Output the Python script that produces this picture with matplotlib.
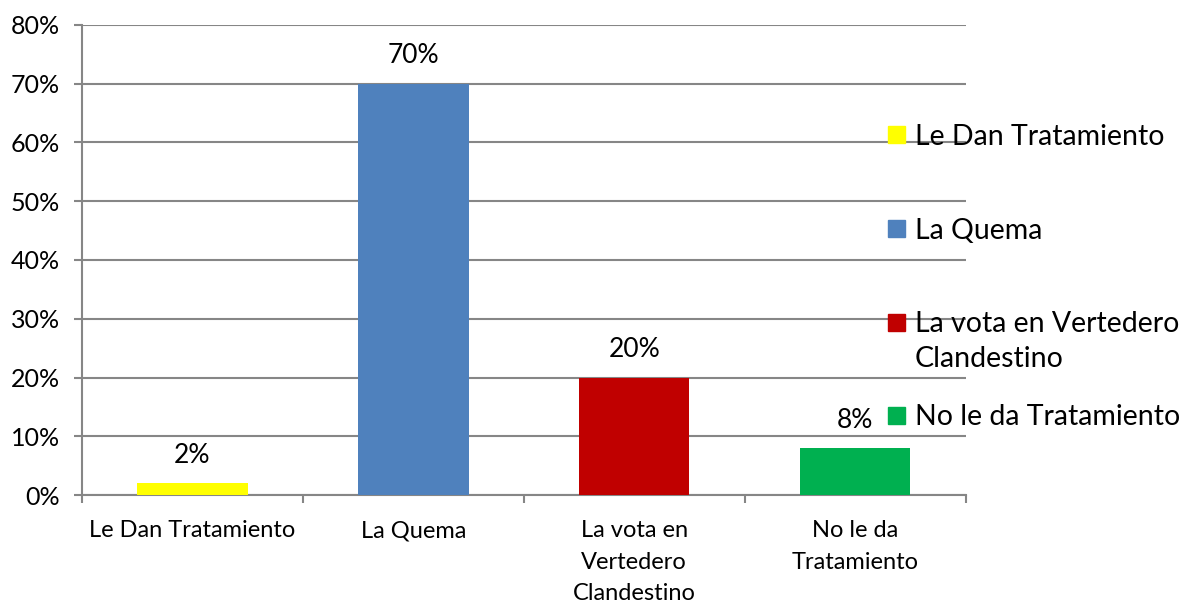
import matplotlib
matplotlib.use("Agg")
import matplotlib.pyplot as plt
from matplotlib.patches import Rectangle

plt.rcParams['font.family'] = ['Lato', 'DejaVu Sans']

# Data
categories = ['Le Dan Tratamiento', 'La Quema', 'La vota en\nVertedero\nClandestino', 'No le da\nTratamiento']
legend_names = ['Le Dan Tratamiento', 'La Quema', 'La vota en Vertedero\nClandestino', 'No le da Tratamiento']
values = [2, 70, 20, 8]
colors = ['#FFFF00', '#4F81BD', '#C00000', '#00B050']
yticks = [0, 10, 20, 30, 40, 50, 60, 70, 80]

grid_col = '#868686'
W, H = 1194, 606

fig = plt.figure(figsize=(W / 100, H / 100), dpi=100)
ax = fig.add_axes([0.0687, 0.183, 0.740, 0.776])

x = list(range(len(categories)))
bars = ax.bar(x, values, width=0.5, color=colors, zorder=3)

for xi, v in zip(x, values):
    ax.annotate(f'{v}%', (xi, v), xytext=(0, 11), textcoords='offset points',
                ha='center', va='bottom', fontsize=19)

ax.set_xlim(-0.5, 3.5)
ax.set_ylim(0, 80)
ax.set_yticks(yticks)
ax.set_yticklabels([f'{t}%' for t in yticks], fontsize=18)
ax.set_xticks(x)
ax.set_xticklabels(categories, fontsize=17, linespacing=1.62)
ax.set_xticks([-0.5, 0.5, 1.5, 2.5, 3.5], minor=True)
ax.tick_params(axis='x', which='major', length=0, pad=18)
ax.tick_params(axis='x', which='minor', length=6, color=grid_col, width=1.5)
ax.tick_params(axis='y', length=6, color=grid_col, width=1.5, pad=10)

ax.grid(axis='y', color=grid_col, linewidth=1.5, zorder=0)
for s in ['top', 'right']:
    ax.spines[s].set_visible(False)
for s in ['left', 'bottom']:
    ax.spines[s].set_color(grid_col)
    ax.spines[s].set_linewidth(1.5)

# legend, drawn entry by entry (marker level with the first text line)
leg_y = [135, 229, 322, 415]
for name, c, yy in zip(legend_names, colors, leg_y):
    fy = 1 - yy / H
    fig.patches.append(Rectangle((888 / W, fy - 8.5 / H), 17 / W, 17 / H,
                                 transform=fig.transFigure, color=c, zorder=5))
    fig.text(915 / W, fy + 11 / H, name, fontsize=20.5, ha='left', va='top',
             linespacing=1.45, zorder=5)

fig.savefig('out.png', dpi=100)
